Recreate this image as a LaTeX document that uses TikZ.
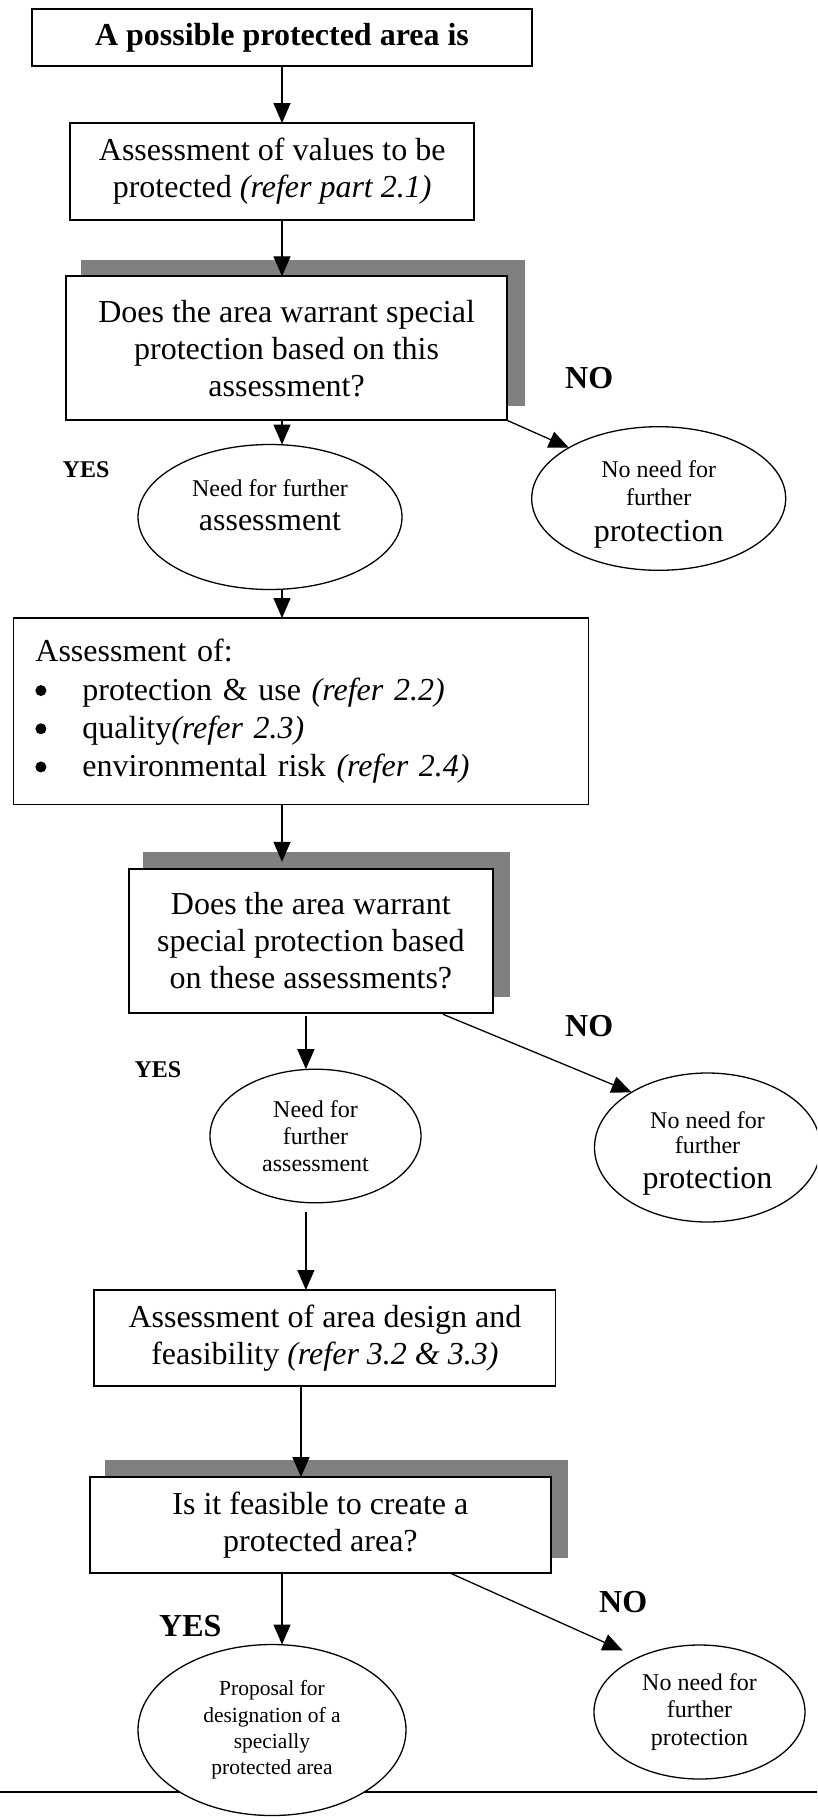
\documentclass[tikz,border=0pt]{standalone}
\usepackage{fontspec}
\setmainfont{Liberation Serif}
\usetikzlibrary{arrows.meta,shapes.geometric}
\definecolor{shadowgray}{RGB}{128,128,128}
\newcommand{\bigdot}{\makebox[47pt][l]{\tikz[baseline=0pt]\fill[black] (5.5pt,9.5pt) circle[radius=5.5pt];}}
\begin{document}
\begin{tikzpicture}[x=1pt,y=-1pt,
  big/.style={font=\fontsize{32}{37}\selectfont},
  box/.style={draw,line width=1.8pt,fill=white,align=center,inner sep=0pt,outer sep=0pt,big},
  shadowbox/.style={fill=shadowgray,draw=none},
  ell/.style={draw,ellipse,line width=1.3pt,fill=white,align=center,inner sep=0pt,outer sep=0pt},
  arr/.style={line width=1.3pt,-{Triangle[length=20pt,width=17pt]}},
  lab/.style={font=\fontsize{32}{37}\selectfont\bfseries,anchor=base west,inner sep=0pt},
  labs/.style={font=\fontsize{24}{28}\selectfont\bfseries,anchor=base west,inner sep=0pt}
]
\clip (0,0) rectangle (817,1818);
\fill[white] (0,0) rectangle (817,1818);

% x positions of vertical connectors
\coordinate (xa) at (282,0);
\coordinate (xb) at (305.9,0);
\coordinate (xc) at (301,0);

% boxes
\node[box,minimum width=499.5pt,minimum height=57pt,font=\fontsize{32}{37}\selectfont\bfseries] (top) at (282,37.5) {A possible protected area is};

\node[box,minimum width=404pt,minimum height=97pt] (vals) at (272.2,171.6) {Assessment of values to be\\protected \textit{(refer part 2.1)}};

\fill[shadowbox] (80.8,260) rectangle (524.8,405.7);
\node[box,minimum width=440.8pt,minimum height=144pt] (q1) at (286.6,348.3) {Does the area warrant special\\protection based on this\\assessment?};

\node[box,align=left,text width=531pt,minimum height=186.5pt,inner xsep=22pt,font=\fontsize{32}{38.2}\selectfont] (list) at (300.9,711.3) {Assessment of:\\\bigdot protection \& use \textit{(refer 2.2)}\\\bigdot quality\textit{(refer 2.3)}\\\bigdot environmental risk \textit{(refer 2.4)}};

\fill[shadowbox] (143.3,851.9) rectangle (509.6,997.4);
\node[box,minimum width=364.3pt,minimum height=144.3pt] (q2) at (310.9,941) {Does the area warrant\\special protection based\\on these assessments?};

\node[box,minimum width=461.2pt,minimum height=96pt] (design) at (324.9,1338) {Assessment of area design and\\feasibility \textit{(refer 3.2 \& 3.3)}};

\fill[shadowbox] (105.3,1460) rectangle (568,1558);
\node[box,minimum width=460.8pt,minimum height=96.3pt] (q3) at (320.4,1525.2) {Is it feasible to create a\\protected area?};

% ellipses
\node[ell,minimum width=264pt,minimum height=145pt,font=\fontsize{24}{34.4}\selectfont] (e1) at (270,517) {Need for further\\{\fontsize{32}{34.4}\selectfont assessment}\rule[-24pt]{0pt}{0pt}};

\node[ell,minimum width=254pt,minimum height=143.6pt,font=\fontsize{24}{28}\selectfont] (e2) at (658.7,498.5) {\rule{0pt}{28pt}No need for\\further\\[8pt]{\fontsize{32}{28}\selectfont protection}};

\node[ell,minimum width=211pt,minimum height=133.6pt,font=\fontsize{24}{27.3}\selectfont] (e3) at (315.5,1136) {Need for\\further\\assessment};

\node[ell,minimum width=226pt,minimum height=149pt,font=\fontsize{24}{25.6}\selectfont] (e4) at (707.5,1147.5) {\rule{0pt}{28pt}No need for\\further\\[9pt]{\fontsize{32}{25.6}\selectfont protection}};

\draw[line width=1.5pt] (0,1792) -- (817,1792);

\node[ell,minimum width=268pt,minimum height=171pt,font=\fontsize{21.5}{26.3}\selectfont] (e5) at (272,1730) {Proposal for\\designation of a\\specially\\protected area};

\node[ell,minimum width=211pt,minimum height=134pt,font=\fontsize{24}{27.6}\selectfont] (e6) at (699.5,1712) {No need for\\further\\protection};

% labels
\node[lab] (no1) at (565,388.4) {NO};
\node[labs] (yes1) at (62.5,477) {YES};
\node[lab] (no2) at (565,1036) {NO};
\node[labs] (yes2) at (134.4,1077.7) {YES};
\node[lab] (no3) at (599,1612) {NO};
\node[lab] (yes3) at (159,1636.7) {YES};

% connectors
\draw[arr] (xa |- top.south) -- (xa |- vals.north);
\draw[arr] (xa |- vals.south) -- (xa |- q1.north);
\draw[arr] (xa |- q1.south) -- (xa |- e1.north);
\draw[arr] (q1.south east) -- (e2.north west);
\draw[arr] (xa |- e1.south) -- (xa |- list.north);
\draw[arr,shorten >=7pt] (xa |- list.south) -- (xa |- q2.north);
\draw[arr,shorten <=3pt] (xb |- q2.south) -- (xb |- e3.north);
\draw[arr,shorten <=3pt] ([xshift=129.4pt]q2.south) -- (e4.144);
\draw[arr,shorten <=9pt] (xb |- e3.south) -- (xb |- design.north);
\draw[arr] (xc |- design.south) -- (xc |- q3.north);
\draw[arr] (xa |- q3.south) -- (xa |- e5.north);
\draw[arr] ([xshift=130.4pt]q3.south) -- ([xshift=-76.8pt,yshift=61.5pt]e6.center);
\end{tikzpicture}
\end{document}
